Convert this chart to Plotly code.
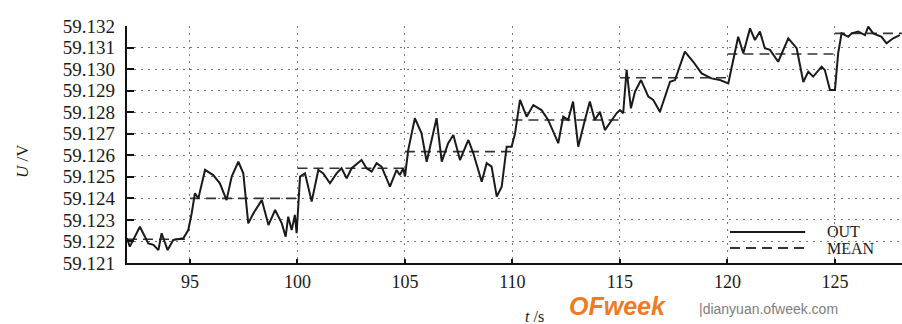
import plotly.graph_objects as go

# ---- data ----
t_out = [
    92.07, 92.2, 92.67, 93.06, 93.3, 93.53, 93.68, 93.96, 94.22, 94.69,
    94.92, 95.08, 95.23, 95.39, 95.7, 96.08, 96.39, 96.7, 96.94, 97.25,
    97.48, 97.71, 97.95, 98.34, 98.65, 98.96, 99.27, 99.45, 99.57, 99.73,
    99.88, 99.96, 100.12, 100.35, 100.66, 100.97, 101.2, 101.51, 101.82, 102.05,
    102.29, 102.52, 102.98, 103.21, 103.45, 103.68, 103.91, 104.3, 104.61, 104.76,
    104.92, 105.0, 105.15, 105.46, 105.77, 106.01, 106.24, 106.47, 106.71, 107.01,
    107.25, 107.56, 107.95, 108.18, 108.57, 108.8, 109.03, 109.27, 109.5, 109.73,
    109.96, 110.12, 110.35, 110.66, 110.97, 111.35, 111.66, 112.13, 112.36, 112.59,
    112.82, 113.06, 113.37, 113.6, 113.83, 114.07, 114.3, 114.61, 114.85, 115.0,
    115.15, 115.31, 115.51, 115.7, 115.98, 116.32, 116.55, 116.86, 117.33, 117.56,
    118.02, 118.41, 118.8, 119.26, 119.65, 120.04, 120.27, 120.5, 120.74, 121.05,
    121.28, 121.51, 121.74, 121.98, 122.36, 122.83, 123.22, 123.53, 123.76, 123.99,
    124.38, 124.53, 124.77, 125.0, 125.15, 125.31, 125.62, 125.78, 126.08, 126.4,
    126.55, 126.78, 127.17, 127.4, 127.71, 128.02,
]
v_out = [
    59.12216, 59.12176, 59.12268, 59.12191, 59.12184, 59.12160, 59.12238, 59.12160, 59.12207, 59.12215,
    59.12253, 59.12331, 59.12424, 59.12400, 59.12532, 59.12508, 59.12470, 59.12392, 59.12501, 59.12570,
    59.12516, 59.12284, 59.12331, 59.12392, 59.12276, 59.12346, 59.12284, 59.12222, 59.12315, 59.12253,
    59.12323, 59.12238, 59.12501, 59.12516, 59.12385, 59.12532, 59.12516, 59.12470, 59.12516, 59.12540,
    59.12493, 59.12540, 59.12578, 59.12540, 59.12524, 59.12563, 59.12547, 59.12454, 59.12532, 59.12508,
    59.12540, 59.12501, 59.12624, 59.12772, 59.12702, 59.12570, 59.12671, 59.12772, 59.12570, 59.12656,
    59.12694, 59.12578, 59.12671, 59.12609, 59.12477, 59.12563, 59.12547, 59.12408, 59.12454, 59.12640,
    59.12640, 59.12702, 59.12857, 59.12779, 59.12833, 59.12810, 59.12764, 59.12656, 59.12779, 59.12764,
    59.12849, 59.12640, 59.12764, 59.12849, 59.12764, 59.12802, 59.12717, 59.12764, 59.12796, 59.12810,
    59.12795, 59.12996, 59.12818, 59.12895, 59.12949, 59.12872, 59.12857, 59.12802, 59.12941, 59.12949,
    59.13081, 59.13034, 59.12980, 59.12957, 59.12949, 59.12934, 59.13042, 59.13150, 59.13073, 59.13189,
    59.13135, 59.13174, 59.13097, 59.13089, 59.13034, 59.13143, 59.13097, 59.12940, 59.12988, 59.12965,
    59.13011, 59.12996, 59.12903, 59.12903, 59.13073, 59.13166, 59.13150, 59.13166, 59.13174, 59.13158,
    59.13197, 59.13166, 59.13150, 59.13120, 59.13143, 59.13158,
]

seg_start = [92.07, 95, 100, 105, 110, 115, 120, 125]
seg_end = [95, 100, 105, 110, 115, 120, 125, 128.12]
mean_values = [59.1221, 59.1240, 59.1254, 59.12617, 59.12764, 59.1296, 59.1307, 59.13166]

x_ticks = [95, 100, 105, 110, 115, 120, 125]
y_ticks = [59.121, 59.122, 59.123, 59.124, 59.125, 59.126, 59.127,
           59.128, 59.129, 59.130, 59.131, 59.132]
y_tick_labels = [f"{v:.3f}" for v in y_ticks]

# build mean step segments (gaps between segments)
mean_x, mean_y = [], []
for s, e, m in zip(seg_start, seg_end, mean_values):
    mean_x += [s, e, None]
    mean_y += [m, m, None]

SERIF = "Liberation Serif"
INK = "#1a1a1a"
GRID = "#777777"

fig = go.Figure()
fig.add_trace(go.Scatter(x=mean_x, y=mean_y, mode="lines", name="MEAN",
                         line=dict(color="#333333", width=1.6, dash="10px,6px"),
                         connectgaps=False, showlegend=False))
fig.add_trace(go.Scatter(x=t_out, y=v_out, mode="lines", name="OUT",
                         line=dict(color="#1a1a1a", width=2), showlegend=False))

fig.update_layout(
    width=902, height=324,
    margin=dict(l=127, r=0, t=26, b=61, pad=0, autoexpand=False),
    paper_bgcolor="white", plot_bgcolor="white",
    font=dict(family=SERIF, color=INK),
    xaxis=dict(range=[92.07, 128.12], tickvals=x_ticks, ticktext=[str(v) for v in x_ticks],
               showgrid=True, gridcolor=GRID, griddash="2px,5px", gridwidth=1,
               showline=True, linecolor="#111", linewidth=2.2,
               ticks="inside", ticklen=4, tickcolor="#111", tickwidth=1.5,
               tickfont=dict(family=SERIF, size=18, color=INK), zeroline=False,
               ticklabelstandoff=1, automargin=False),
    yaxis=dict(range=[59.121, 59.132], tickvals=y_ticks, ticktext=y_tick_labels,
               showgrid=True, gridcolor=GRID, griddash="2px,5px", gridwidth=1,
               showline=True, linecolor="#111", linewidth=2.2,
               ticks="inside", ticklen=7, tickcolor="#111", tickwidth=2,
               tickfont=dict(family=SERIF, size=19, color=INK), zeroline=False,
               ticklabelstandoff=6, automargin=False),
)

# legend box (white background) and manual legend
fig.add_shape(type="rect", xref="paper", yref="paper", x0=0.755, x1=0.995, y0=0.01, y1=0.215,
              fillcolor="white", line=dict(width=0), layer="between")
fig.add_shape(type="line", xref="paper", yref="paper", x0=0.778, x1=0.875, y0=0.131, y1=0.131,
              line=dict(color="#1a1a1a", width=2))
fig.add_shape(type="line", xref="paper", yref="paper", x0=0.778, x1=0.875, y0=0.063, y1=0.063,
              line=dict(color="#333333", width=2, dash="10px,6px"))
fig.add_annotation(xref="paper", yref="paper", x=0.9, y=0.131, text="OUT", showarrow=False,
                   xanchor="left", yanchor="middle", font=dict(family=SERIF, size=16, color=INK))
fig.add_annotation(xref="paper", yref="paper", x=0.9, y=0.063, text="MEAN", showarrow=False,
                   xanchor="left", yanchor="middle", font=dict(family=SERIF, size=16, color=INK))

# axis titles
fig.add_annotation(xref="paper", yref="paper", x=-0.1355, y=0.43, text="<i>U</i> /V",
                   textangle=-90, showarrow=False, xanchor="center", yanchor="middle",
                   font=dict(family=SERIF, size=17, color=INK))
fig.add_annotation(xref="paper", yref="paper", x=0.526, y=-0.225, text="<i>t</i> /s",
                   showarrow=False, xanchor="center", yanchor="middle",
                   font=dict(family=SERIF, size=16, color=INK))

# watermark
fig.add_annotation(xref="paper", yref="paper", x=0.568, y=-0.18, text="<b><i>OFweek</i></b>",
                   showarrow=False, xanchor="left", yanchor="middle",
                   font=dict(family="Liberation Sans", size=25, color="#f07a22"))
fig.add_annotation(xref="paper", yref="paper", x=0.735, y=-0.195, text="|dianyuan.ofweek.com",
                   showarrow=False, xanchor="left", yanchor="middle",
                   font=dict(family="Liberation Sans", size=14, color="#7d7d7d"))

fig.write_html("out.html", config={"displayModeBar": False},
               post_script="document.body.style.margin='0';")
